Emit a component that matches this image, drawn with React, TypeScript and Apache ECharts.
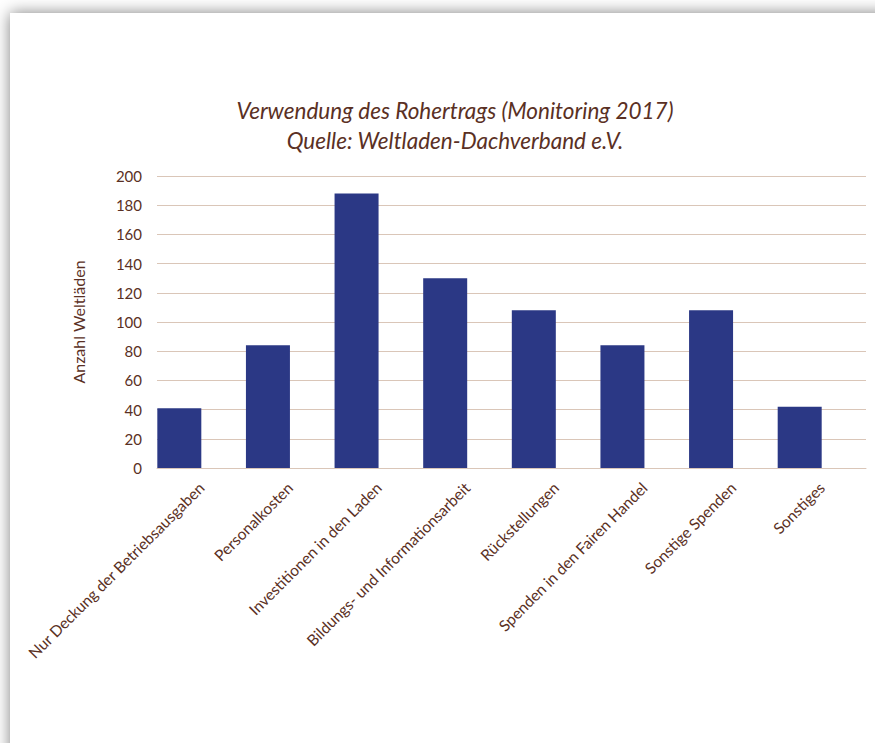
import React, { useEffect, useRef } from "react";
import * as echarts from "echarts";

const categories = [
  "Nur Deckung der Betriebsausgaben",
  "Personalkosten",
  "Investitionen in den Laden",
  "Bildungs- und Informationsarbeit",
  "Rückstellungen",
  "Spenden in den Fairen Handel",
  "Sonstige Spenden",
  "Sonstiges",
];
const values = [41, 84, 188, 130, 108, 84, 108, 42];
const titleLines = ["Verwendung des Rohertrags (Monitoring 2017)", "Quelle: Weltladen-Dachverband e.V."];
const yAxisName = "Anzahl Weltläden";

const TEXT = "#5a3024";
const GRIDC = "#dac6b8";
const FONT = "Lato, 'Open Sans', sans-serif";

export default function App() {
  const ref = useRef<HTMLDivElement>(null);
  useEffect(() => {
    document.body.style.margin = "0";
    const chart = echarts.init(ref.current!, null, { renderer: "svg" });
    chart.setOption({
      animation: false,
      backgroundColor: "#ffffff",
      graphic: [
        {
          type: "rect",
          z: -10,
          silent: true,
          shape: { x: 10, y: 13, width: 900, height: 780 },
          style: {
            fill: "#ffffff",
            shadowBlur: 16,
            shadowColor: "rgba(0,0,0,0.5)",
          },
        },
      ],
      title: {
        text: titleLines.join("\n"),
        left: 450,
        top: 90,
        textAlign: "center",
        textStyle: {
          fontFamily: FONT,
          fontStyle: "italic",
          fontWeight: "normal",
          fontSize: 22.5,
          lineHeight: 30,
          color: TEXT,
        },
      },
      grid: { left: 157, right: 9, top: 176, bottom: 275, containLabel: false },
      xAxis: {
        type: "category",
        data: categories,
        axisLine: { show: true, lineStyle: { color: GRIDC, width: 1 } },
        axisTick: { show: false },
        axisLabel: {
          interval: 0,
          rotate: 45,
          margin: 17,
          color: TEXT,
          fontFamily: FONT,
          fontSize: 15.5,
        },
      },
      yAxis: {
        type: "value",
        min: 0,
        max: 200,
        interval: 20,
        name: yAxisName,
        nameLocation: "middle",
        nameRotate: 90,
        nameGap: 71,
        nameTextStyle: { color: TEXT, fontFamily: FONT, fontSize: 16 },
        axisLine: { show: false },
        axisTick: { show: false },
        splitLine: { lineStyle: { color: GRIDC, width: 1 } },
        axisLabel: { margin: 15, color: TEXT, fontFamily: FONT, fontSize: 15 },
      },
      series: [
        {
          type: "bar",
          data: values,
          barWidth: 44,
          barGap: "0%",
          itemStyle: { color: "#2b3885" },
        },
        {
          type: "bar",
          data: values.map(() => null),
          barWidth: 44,
          barGap: "0%",
          silent: true,
        },
      ],
    });
    return () => chart.dispose();
  }, []);
  return <div ref={ref} style={{ width: 875, height: 743 }} />;
}
